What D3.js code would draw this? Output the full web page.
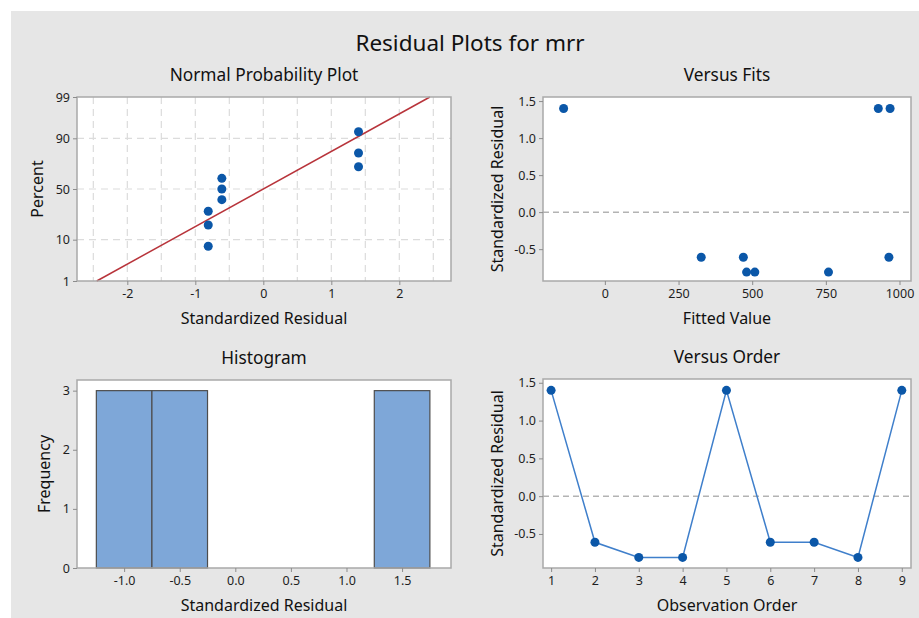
<!DOCTYPE html>
<html>
<head>
<meta charset="utf-8">
<script src="https://cdn.jsdelivr.net/npm/d3@7"></script>
<style>
  body { margin: 0; background: #ffffff; }
  text { font-family: "Noto Sans", "Open Sans", sans-serif; fill: #111111; }
  .tick text { font-size: 12.5px; fill: #1e1e1e; }
  .tick line { stroke: #8c8c8c; }
  .domain { display: none; }
</style>
</head>
<body>
<div id="chart"></div>
<script>
(() => {

  // residuals by observation order
  var obsOrder = [1, 2, 3, 4, 5, 6, 7, 8, 9];
  var residuals = [1.40, -0.61, -0.81, -0.81, 1.40, -0.61, -0.61, -0.81, 1.40];
  var fittedValues = [-140, 327, 481, 509, 928, 470, 964, 759, 968];

  // normal probability plot (sorted residual vs percent)
  var probResidual = [-0.81, -0.81, -0.81, -0.61, -0.61, -0.61, 1.40, 1.40, 1.40];
  var probPercent = [7.4, 18.1, 28.7, 39.4, 50, 60.6, 71.3, 81.9, 92.6];
  var fitMean = 0;
  var fitSd = 1.053;
  var percentTicks = [1, 10, 50, 90, 99];
  var normXTicks = [-2, -1, 0, 1, 2];
  var normGridX = [-2.5, -2, -1.5, -1, -0.5, 0, 0.5, 1, 1.5, 2, 2.5];

  // histogram
  var binStart = [-1.25, -0.75, -0.25, 0.25, 0.75, 1.25];
  var binCounts = [3, 3, 0, 0, 0, 3];
  var binWidth = 0.5;
  var histXTicks = [-1.0, -0.5, 0.0, 0.5, 1.0, 1.5];
  var freqTicks = [0, 1, 2, 3];

  var residTicks = [-0.5, 0.0, 0.5, 1.0, 1.5];
  var fitTicks = [0, 250, 500, 750, 1000];

  var W = 919, H = 618;
  var svg = d3.select('#chart').append('svg')
    .attr('width', W).attr('height', H);

  svg.append('rect')
    .attr('x', 11).attr('y', 11)
    .attr('width', W - 11).attr('height', H - 11)
    .attr('fill', '#e6e6e6');

  svg.append('text')
    .attr('x', 470).attr('y', 51)
    .attr('text-anchor', 'middle')
    .style('font-size', '22.5px')
    .text('Residual Plots for mrr');

  // inverse normal cdf (Acklam) for the probability scale
  function qnorm(p) {
    var a = [-39.69683028665376, 220.9460984245205, -275.9285104469687, 138.3577518672690, -30.66479806614716, 2.506628277459239];
    var b = [-54.47609879822406, 161.5858589980258, -155.6989798598866, 66.80131188771972, -13.28068155288572];
    var c = [-0.007784894002430293, -0.3223964580411365, -2.400758277161838, -2.549732539343734, 4.374664141464968, 2.938163982698783];
    var d = [0.007784695709041462, 0.3224671290700398, 2.445134137142996, 3.754408661907416];
    var q, r;
    if (p < 0.02425) {
      q = Math.sqrt(-2 * Math.log(p));
      return (((((c[0]*q+c[1])*q+c[2])*q+c[3])*q+c[4])*q+c[5]) / ((((d[0]*q+d[1])*q+d[2])*q+d[3])*q+1);
    } else if (p > 1 - 0.02425) {
      q = Math.sqrt(-2 * Math.log(1 - p));
      return -(((((c[0]*q+c[1])*q+c[2])*q+c[3])*q+c[4])*q+c[5]) / ((((d[0]*q+d[1])*q+d[2])*q+d[3])*q+1);
    }
    q = p - 0.5; r = q * q;
    return (((((a[0]*r+a[1])*r+a[2])*r+a[3])*r+a[4])*r+a[5])*q / (((((b[0]*r+b[1])*r+b[2])*r+b[3])*r+b[4])*r+1);
  }

  var fmt0 = d => String(d);
  var fmt1 = d => d.toFixed(1);

  function panel(box, title, xLabel, yLabel, yLabelX) {
    var g = svg.append('g');
    g.append('rect')
      .attr('x', box.x0).attr('y', box.y0)
      .attr('width', box.x1 - box.x0).attr('height', box.y1 - box.y0)
      .attr('fill', '#ffffff');
    g.append('text')
      .attr('x', (box.x0 + box.x1) / 2).attr('y', box.y0 - 16)
      .attr('text-anchor', 'middle')
      .style('font-size', '17.3px')
      .text(title);
    g.append('text')
      .attr('x', (box.x0 + box.x1) / 2).attr('y', box.y1 + 43)
      .attr('text-anchor', 'middle')
      .style('font-size', '16px')
      .text(xLabel);
    g.append('text')
      .attr('transform', 'translate(' + yLabelX + ',' + ((box.y0 + box.y1) / 2) + ') rotate(-90)')
      .attr('text-anchor', 'middle')
      .attr('dy', '0.35em')
      .style('font-size', '16px')
      .text(yLabel);
    return g;
  }

  function frame(g, box) {
    g.append('rect')
      .attr('x', box.x0).attr('y', box.y0)
      .attr('width', box.x1 - box.x0).attr('height', box.y1 - box.y0)
      .attr('fill', 'none')
      .attr('stroke', '#a9a9a9')
      .attr('stroke-width', 1.5);
  }

  function axes(g, box, x, y, xt, yt, xf, yf) {
    g.append('g')
      .attr('transform', 'translate(0,' + box.y1 + ')')
      .call(d3.axisBottom(x).tickValues(xt).tickFormat(xf).tickSize(4).tickPadding(4));
    g.append('g')
      .attr('transform', 'translate(' + box.x0 + ',0)')
      .call(d3.axisLeft(y).tickValues(yt).tickFormat(yf).tickSize(4).tickPadding(3));
  }

  var ptColor = '#0b57a8';

  // ---- Normal Probability Plot
  var b1 = { x0: 77, x1: 451, y0: 97, y1: 281 };
  var g1 = panel(b1, 'Normal Probability Plot', 'Standardized Residual', 'Percent', 37);
  var x1 = d3.scaleLinear().domain([-2.74, 2.76]).range([b1.x0, b1.x1]);
  var y1 = d3.scaleLinear().domain([qnorm(0.01), qnorm(0.99)]).range([b1.y1, b1.y0]);

  g1.selectAll('.vgrid').data(normGridX).enter().append('line')
    .attr('x1', d => x1(d)).attr('x2', d => x1(d))
    .attr('y1', b1.y0).attr('y2', b1.y1)
    .attr('stroke', '#dcdcdc').attr('stroke-width', 1.2)
    .attr('stroke-dasharray', '7,5');
  g1.selectAll('.hgrid').data([10, 50, 90]).enter().append('line')
    .attr('x1', b1.x0).attr('x2', b1.x1)
    .attr('y1', d => y1(qnorm(d / 100))).attr('y2', d => y1(qnorm(d / 100)))
    .attr('stroke', '#dcdcdc').attr('stroke-width', 1.2)
    .attr('stroke-dasharray', '7,5');

  g1.append('line')
    .attr('x1', x1(fitMean + fitSd * qnorm(0.01))).attr('y1', y1(qnorm(0.01)))
    .attr('x2', x1(fitMean + fitSd * qnorm(0.99))).attr('y2', y1(qnorm(0.99)))
    .attr('stroke', '#b8343b').attr('stroke-width', 1.5);

  g1.selectAll('circle').data(probResidual).enter().append('circle')
    .attr('cx', d => x1(d))
    .attr('cy', (d, i) => y1(qnorm(probPercent[i] / 100)))
    .attr('r', 4.5).attr('fill', ptColor);

  frame(g1, b1);
  axes(g1, b1, x1, y1, normXTicks, percentTicks.map(p => qnorm(p / 100)),
    fmt0, (d, i) => percentTicks[i]);

  // ---- Versus Fits
  var b2 = { x0: 543, x1: 911, y0: 97, y1: 281 };
  var g2 = panel(b2, 'Versus Fits', 'Fitted Value', 'Standardized Residual', 497);
  var x2 = d3.scaleLinear().domain([-210, 1039]).range([b2.x0, b2.x1]);
  var y2 = d3.scaleLinear().domain([-0.93, 1.555]).range([b2.y1, b2.y0]);

  g2.append('line')
    .attr('x1', b2.x0).attr('x2', b2.x1)
    .attr('y1', y2(0)).attr('y2', y2(0))
    .attr('stroke', '#b3b3b3').attr('stroke-width', 1.5)
    .attr('stroke-dasharray', '6,4');

  g2.selectAll('circle').data(fittedValues).enter().append('circle')
    .attr('cx', d => x2(d))
    .attr('cy', (d, i) => y2(residuals[i]))
    .attr('r', 4.5).attr('fill', ptColor);

  frame(g2, b2);
  axes(g2, b2, x2, y2, fitTicks, residTicks, fmt0, fmt1);

  // ---- Histogram
  var b3 = { x0: 77, x1: 451, y0: 380, y1: 568 };
  var g3 = panel(b3, 'Histogram', 'Standardized Residual', 'Frequency', 44);
  var x3 = d3.scaleLinear().domain([-1.424, 1.94]).range([b3.x0, b3.x1]);
  var y3 = d3.scaleLinear().domain([0, 3.18]).range([b3.y1, b3.y0]);

  g3.selectAll('rect.bar').data(binStart).enter().append('rect')
    .attr('class', 'bar')
    .attr('x', d => x3(d))
    .attr('width', d => x3(d + binWidth) - x3(d))
    .attr('y', (d, i) => y3(binCounts[i]))
    .attr('height', (d, i) => y3(0) - y3(binCounts[i]))
    .attr('fill', '#7ea7d8')
    .attr('stroke', (d, i) => binCounts[i] > 0 ? '#4d4d4d' : 'none')
    .attr('stroke-width', 1.2);

  frame(g3, b3);
  axes(g3, b3, x3, y3, histXTicks, freqTicks, fmt1, fmt0);

  // ---- Versus Order
  var b4 = { x0: 543, x1: 911, y0: 379, y1: 568 };
  var g4 = panel(b4, 'Versus Order', 'Observation Order', 'Standardized Residual', 497);
  var x4 = d3.scaleLinear().domain([0.815, 9.21]).range([b4.x0, b4.x1]);
  var y4 = d3.scaleLinear().domain([-0.95, 1.55]).range([b4.y1, b4.y0]);

  g4.append('line')
    .attr('x1', b4.x0).attr('x2', b4.x1)
    .attr('y1', y4(0)).attr('y2', y4(0))
    .attr('stroke', '#b3b3b3').attr('stroke-width', 1.5)
    .attr('stroke-dasharray', '6,4');

  var line = d3.line()
    .x(d => x4(d))
    .y((d, i) => y4(residuals[i]));
  g4.append('path')
    .datum(obsOrder)
    .attr('d', line)
    .attr('fill', 'none')
    .attr('stroke', '#3f7fcb')
    .attr('stroke-width', 1.5);

  g4.selectAll('circle').data(obsOrder).enter().append('circle')
    .attr('cx', d => x4(d))
    .attr('cy', (d, i) => y4(residuals[i]))
    .attr('r', 4.5).attr('fill', ptColor);

  frame(g4, b4);
  axes(g4, b4, x4, y4, obsOrder, residTicks, fmt0, fmt1);
})();
</script>
</body>
</html>
